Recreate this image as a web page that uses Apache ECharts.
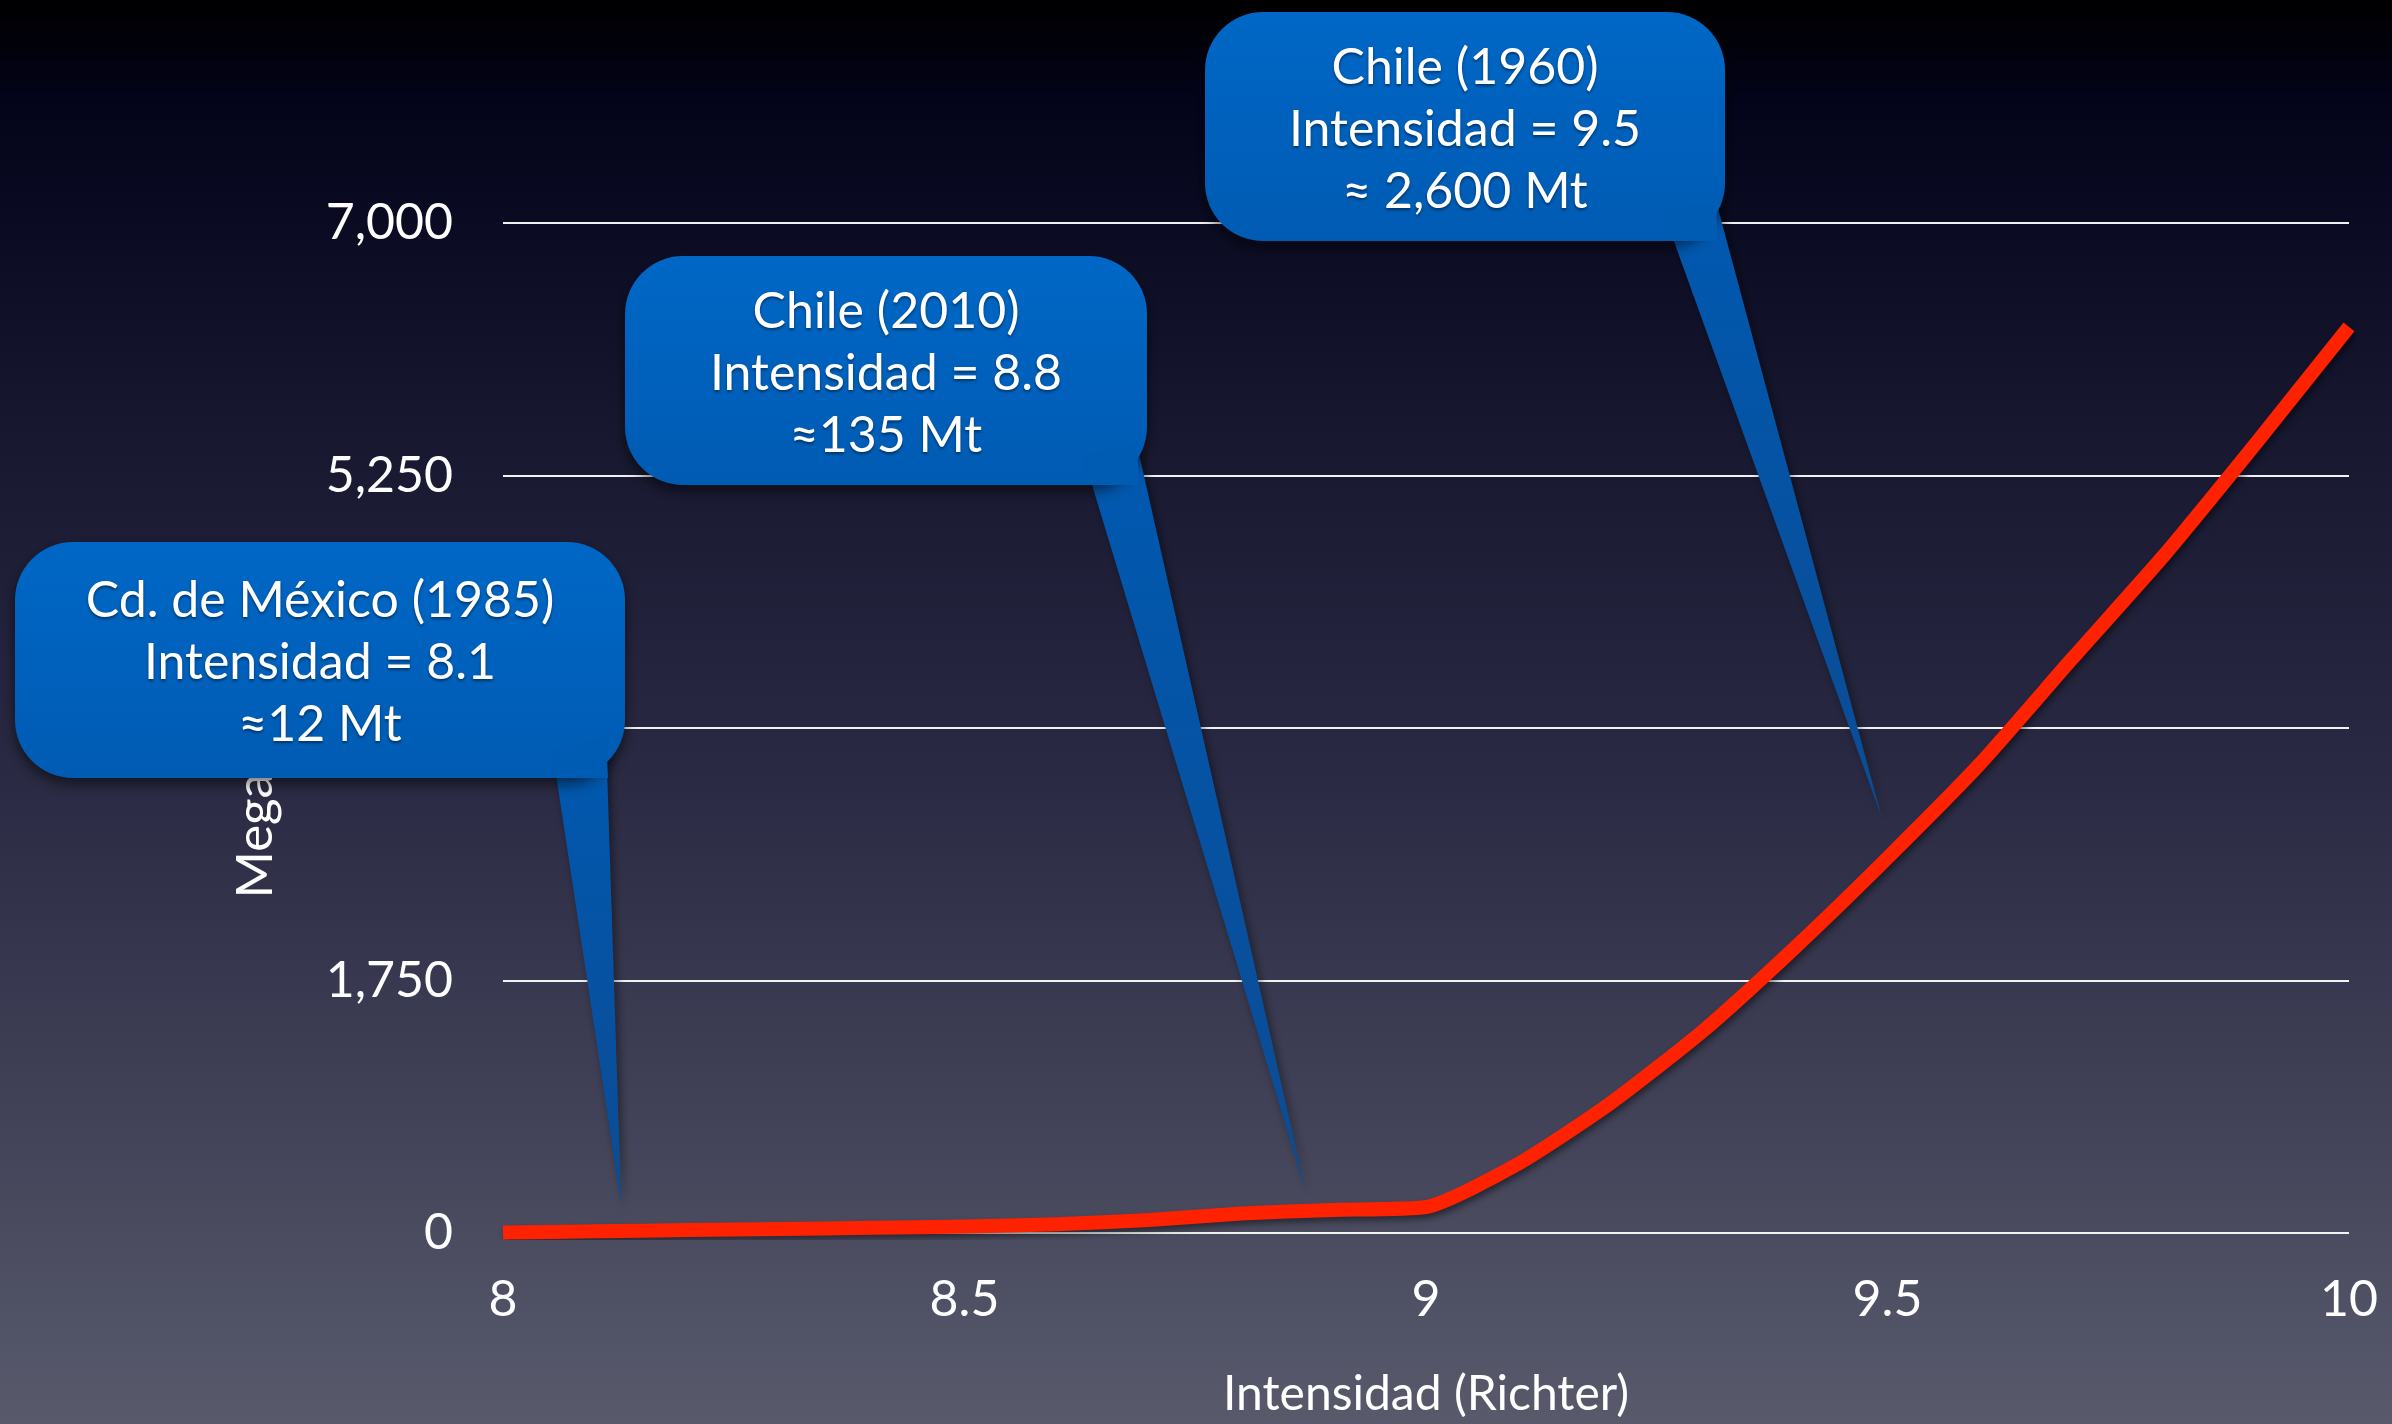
<!DOCTYPE html>
<html>
<head>
<meta charset="utf-8">
<title>Energía liberada por un sismo</title>
<script src="https://cdn.jsdelivr.net/npm/echarts@6/dist/echarts.min.js"></script>
<style>
  html, body { margin: 0; padding: 0; background: #000; }
  #chart { width: 2392px; height: 1424px; }
</style>
</head>
<body>
<div id="chart"></div>
<script>
// Richter magnitude vs. released energy (megatons of TNT)
const intensity = [8.0, 8.1, 8.2, 8.3, 8.4, 8.5, 8.6, 8.7, 8.8, 8.9, 9.0,
                   9.1, 9.2, 9.3, 9.4, 9.5, 9.6, 9.7, 9.8, 9.9, 10.0];
const megatons  = [3, 12, 20, 28, 36, 45, 60, 90, 135, 160, 180,
                   480, 900, 1400, 1980, 2600, 3250, 3980, 4700, 5480, 6280];

// Axis ticks
const xTicks = [8, 8.5, 9, 9.5, 10];
const yTicks = [0, 1750, 3500, 5250, 7000];

// Annotated earthquakes
const eventPlace     = ['Cd. de México', 'Chile', 'Chile'];
const eventYear      = [1985, 2010, 1960];
const eventIntensity = [8.1, 8.8, 9.5];
const eventMt        = [12, 135, 2600];
const eventApproxSep = ['', '', ' '];

// Callout box geometry (pixels) and pointer-tip offset from the event point
const calloutLayout = [
  { x: 15,   y: 542, w: 610, h: 236, baseL: 552,  baseR: 606,  tipDx: 26, tipDy: -26 },
  { x: 625,  y: 256, w: 522, h: 229, baseL: 1083, baseR: 1137, tipDx: 64, tipDy: -23 },
  { x: 1205, y: 12,  w: 520, h: 229, baseL: 1663, baseR: 1716, tipDx: -6, tipDy: -41 }
];

const FONT = 'Lato, "Open Sans", "DejaVu Sans", sans-serif';
const fmtThousands = v => String(v).replace(/\B(?=(\d{3})+(?!\d))/g, ',');

const lineData = intensity.map((x, i) => [x, megatons[i]]);
const eventData = eventIntensity.map((x, i) => [x, eventMt[i], i]);

function renderCallout(params, api) {
  const i = api.value(2);
  const L = calloutLayout[i];
  const p = api.coord([api.value(0), api.value(1)]);
  const tip = [p[0] + L.tipDx, p[1] + L.tipDy];
  const bottom = L.y + L.h;
  const lines = [
    eventPlace[i] + ' (' + eventYear[i] + ')',
    'Intensidad = ' + eventIntensity[i],
    '\u2248' + eventApproxSep[i] + fmtThousands(eventMt[i]) + ' Mt'
  ];
  return {
    type: 'group',
    children: [
      {
        type: 'polygon',
        shape: { points: [[L.baseL, bottom - 30], [L.baseR, bottom - 40], tip] },
        style: {
          fill: {
            type: 'linear', x: 0, y: 0, x2: 0, y2: 1, global: false,
            colorStops: [{ offset: 0, color: '#0059b0' }, { offset: 1, color: '#0c4b94' }]
          },
          shadowColor: 'rgba(0,0,0,0.45)', shadowBlur: 10, shadowOffsetX: 3, shadowOffsetY: 4
        }
      },
      {
        type: 'rect',
        shape: { x: L.x, y: L.y, width: L.w, height: L.h, r: 58 },
        style: {
          fill: {
            type: 'linear', x: 0, y: 0, x2: 0, y2: 1, global: false,
            colorStops: [{ offset: 0, color: '#0067c6' }, { offset: 1, color: '#005bb3' }]
          },
          shadowColor: 'rgba(0,0,0,0.55)', shadowBlur: 14, shadowOffsetY: 6
        }
      },
      {
        type: 'polygon',
        shape: { points: [[L.baseL, bottom - 30], [L.baseR, bottom - 40], [L.baseR + 2, bottom], [L.baseL + 4, bottom]] },
        style: { fill: '#005bb3' }
      },
      {
        type: 'text',
        style: {
          x: L.x + L.w / 2,
          y: L.y + L.h / 2 + 3,
          text: lines.join('\n'),
          align: 'center',
          verticalAlign: 'middle',
          fill: '#ffffff',
          fontSize: 50,
          fontFamily: FONT,
          lineHeight: 62,
          textShadowColor: 'rgba(0,0,0,0.45)',
          textShadowBlur: 3,
          textShadowOffsetY: 2
        }
      }
    ]
  };
}

const chart = echarts.init(document.getElementById('chart'), null, { renderer: 'canvas' });

chart.setOption({
  animation: false,
  backgroundColor: {
    type: 'linear', x: 0, y: 0, x2: 0, y2: 1,
    colorStops: [
      { offset: 0.0,  color: '#000000' },
      { offset: 0.07, color: '#03031a' },
      { offset: 0.3,  color: '#171730' },
      { offset: 0.55, color: '#2a2a44' },
      { offset: 0.8,  color: '#434459' },
      { offset: 1.0,  color: '#585a6c' }
    ]
  },
  textStyle: { fontFamily: FONT },
  grid: { left: 503, right: 43, top: 223, bottom: 179 },
  xAxis: {
    type: 'value',
    min: xTicks[0],
    max: xTicks[xTicks.length - 1],
    interval: xTicks[1] - xTicks[0],
    name: 'Intensidad (Richter)',
    nameLocation: 'middle',
    nameGap: 138,
    nameTextStyle: { color: '#ffffff', fontSize: 48, fontFamily: FONT },
    axisLine: { show: false },
    axisTick: { show: false },
    splitLine: { show: false },
    axisLabel: {
      color: '#ffffff', fontSize: 50, fontFamily: FONT, margin: 42,
      formatter: v => String(+v.toFixed(1))
    }
  },
  yAxis: {
    type: 'value',
    min: yTicks[0],
    max: yTicks[yTicks.length - 1],
    interval: yTicks[1] - yTicks[0],
    name: 'Megatoneladas',
    nameLocation: 'middle',
    nameGap: 222,
    nameRotate: 90,
    nameTextStyle: { color: '#ffffff', fontSize: 51, fontFamily: FONT },
    axisLine: { show: false },
    axisTick: { show: false },
    splitLine: { show: true, lineStyle: { color: '#f2f2f2', width: 2 } },
    axisLabel: {
      color: '#ffffff', fontSize: 50, fontFamily: FONT, margin: 50,
      formatter: v => fmtThousands(v)
    }
  },
  series: [
    {
      type: 'line',
      data: lineData,
      showSymbol: false,
      smooth: 0.2,
      z: 3,
      lineStyle: {
        color: '#ff2200', width: 14, cap: 'butt', join: 'round',
        shadowColor: 'rgba(0,0,0,0.45)', shadowBlur: 6, shadowOffsetX: 2, shadowOffsetY: 4
      }
    },
    {
      type: 'custom',
      coordinateSystem: 'cartesian2d',
      data: eventData,
      encode: { x: 0, y: 1 },
      clip: false,
      z: 5,
      renderItem: renderCallout
    }
  ]
});
</script>
</body>
</html>
